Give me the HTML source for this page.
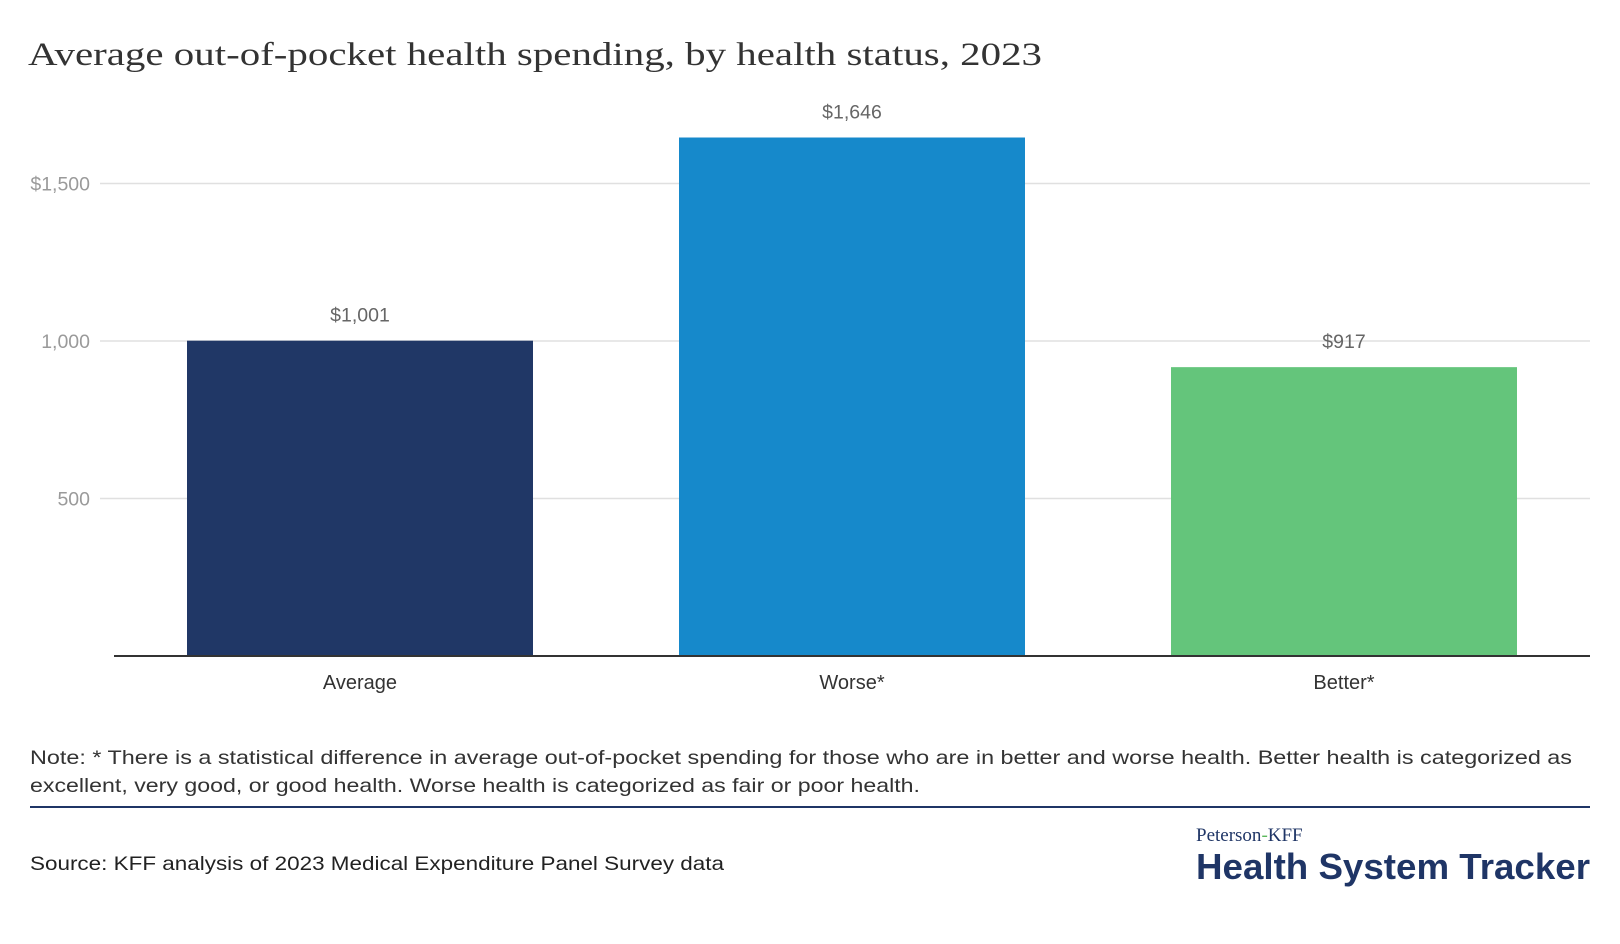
<!DOCTYPE html>
<html><head><meta charset="utf-8"><style>
html,body{margin:0;padding:0;background:#fff;width:1620px;height:944px;overflow:hidden}
svg{display:block}
.t{font-family:"Liberation Sans",sans-serif}
</style></head><body>
<svg id="c" width="1620" height="944" xmlns="http://www.w3.org/2000/svg">
<text x="28" y="65" font-family="Liberation Serif, serif" font-size="33" fill="#333" textLength="1014" lengthAdjust="spacingAndGlyphs">Average out-of-pocket health spending, by health status, 2023</text>
<g id="grid"></g>
<g id="bars"></g>
<text class="t" x="30" y="764" font-size="19.5" fill="#333" textLength="1542" lengthAdjust="spacingAndGlyphs">Note: * There is a statistical difference in average out-of-pocket spending for those who are in better and worse health. Better health is categorized as</text>
<text class="t" x="30" y="792" font-size="19.5" fill="#333" textLength="890" lengthAdjust="spacingAndGlyphs">excellent, very good, or good health. Worse health is categorized as fair or poor health.</text>
<line x1="30" y1="807" x2="1590" y2="807" stroke="#1f3566" stroke-width="2"/>
<text class="t" x="30" y="870" font-size="19.5" fill="#222" textLength="694" lengthAdjust="spacingAndGlyphs">Source: KFF analysis of 2023 Medical Expenditure Panel Survey data</text>
<text x="1196" y="841" font-family="Liberation Serif, serif" font-size="19" fill="#1f3566">Peterson<tspan fill="#5cb85c">-</tspan>KFF</text>
<text class="t" x="1196" y="879" font-size="36" font-weight="bold" fill="#1f3566" textLength="394" lengthAdjust="spacingAndGlyphs">Health System Tracker</text>
</svg>
<script>
const categories = ["Average", "Worse*", "Better*"];
const values = [1001, 1646, 917];
const valueLabels = ["$1,001", "$1,646", "$917"];
const colors = ["#203766", "#1689cb", "#64c57b"];
const ticks = [500, 1000, 1500];
const tickLabels = ["500", "1,000", "$1,500"];

const NS = "http://www.w3.org/2000/svg";
const x0 = 114, x1 = 1590, yBase = 656, pxPer = 315/1000;
const y = v => yBase - v * pxPer;
const band = (x1 - x0) / categories.length;
const barW = 346;
const bx = i => x0 + band * i + (band - barW) / 2;
function mk(tag, attrs, parent, txt){const e=document.createElementNS(NS,tag);for(const k in attrs)e.setAttribute(k,attrs[k]);if(txt!=null)e.textContent=txt;parent.appendChild(e);return e;}
const grid = document.getElementById("grid"), bars = document.getElementById("bars");
ticks.forEach((t,i)=>{
  const l = mk("line",{x1:100,x2:x1,y1:y(t),y2:y(t),stroke:"#e0e0e0","stroke-width":1.5},grid);
  
  
  const tx = mk("text",{x:90,y:y(t)+7,"text-anchor":"end","font-size":19.5,fill:"#9a9a9a",class:"t"},grid,tickLabels[i]);
  
  
});
categories.forEach((c,i)=>{
  const r = mk("rect",{x:bx(i),y:y(values[i]),width:barW,height:yBase-y(values[i]),fill:colors[i]},bars);
  
  
  const vl = mk("text",{x:bx(i)+barW/2,y:y(values[i])-19,"text-anchor":"middle","font-size":19.5,fill:"#666",class:"t"},bars,valueLabels[i]);
  
  
  const cl = mk("text",{x:bx(i)+barW/2,y:689,"text-anchor":"middle","font-size":20,fill:"#333",class:"t"},bars,c);
  
  
});
const ax = mk("line",{x1:x0,x2:x1,y1:yBase,y2:yBase,stroke:"#333","stroke-width":2},bars);


</script>
</body></html>
